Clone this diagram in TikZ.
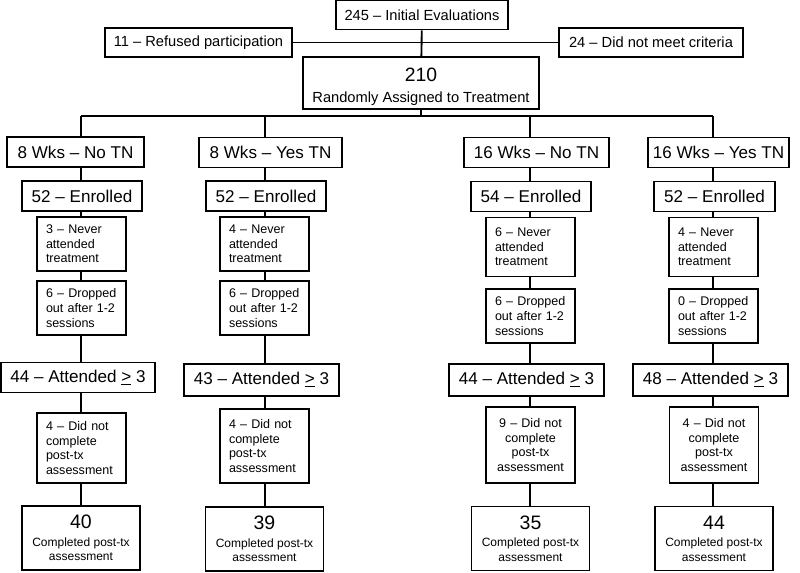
\documentclass[tikz,border=0pt]{standalone}
\usepackage{fontspec}
\setmainfont{Liberation Sans}
\usetikzlibrary{calc}

\begin{document}
\begin{tikzpicture}[x=0.75pt,y=-0.75pt,
    box/.style={draw,line width=1.4pt,fill=white,inner sep=0pt,align=center},
    link/.style={line width=1.4pt},
    topbox/.style={box,minimum height=21.75pt,font=\fontsize{11}{13}\selectfont},
    armbox/.style={box,minimum height=22.5pt,font=\fontsize{12.8}{15}\selectfont},
    smallbox/.style={box,text width=53.25pt,inner xsep=6.75pt,align=left,font=\fontsize{9.4}{11}\selectfont},
    finalbox/.style={box,minimum width=88.5pt,minimum height=48pt,font=\fontsize{9}{11}\selectfont}]

    \useasboundingbox (0,0) rectangle (800,572);

    % screening
    \node[topbox,minimum width=129pt] (init) at (422,15) {245 -- Initial Evaluations};
    \node[topbox,minimum width=140.25pt] (refused) at (198.5,42.5) {11 -- Refused participation};
    \node[topbox,minimum width=138pt] (notmet) at (651,42.5) {24 -- Did not meet criteria};
    \node[box,minimum width=177pt,minimum height=39pt,font=\fontsize{11}{13}\selectfont] (rand) at (421,83)
        {{\fontsize{14.5}{16}\selectfont\rule{0pt}{16pt}210}\\[3pt]Randomly Assigned to Treatment};
    \draw[link] (refused) -- (notmet);
    \draw[link] (init) -- (rand);

    % bus to the four arms
    \coordinate (split) at (421,116);
    \coordinate (b1) at (81,116);  \coordinate (b2) at (265,116);
    \coordinate (b3) at (530,116); \coordinate (b4) at (713,116);
    \draw[link] (rand) -- (split);
    \draw[link] (b1) -- (b4);

    % 8 weeks, no TN
    \node[armbox,minimum width=102.75pt] (arm1) at (75.5,152) {8 Wks -- No TN};
    \node[armbox,minimum width=90pt] (enr1) at (82,196) {52 -- Enrolled};
    \node[smallbox,minimum height=40.5pt] (nev1) at (81.5,244) {3 -- Never\\attended\\treatment};
    \node[smallbox,minimum height=40.5pt] (drop1) at (81.5,308) {6 -- Dropped\\out after 1-2\\sessions};
    \node[armbox,minimum width=115.5pt] (att1) at (78,377.5) {44 -- Attended \underline{>} 3};
    \node[smallbox,minimum height=52.5pt] (dnc1) at (81.5,448) {4 -- Did not\\complete\\post-tx\\assessment};
    \node[finalbox] (comp1) at (81,538) {{\fontsize{14.6}{17}\selectfont 40}\\[2pt]Completed post-tx\\assessment};

    % 8 weeks, yes TN
    \node[armbox,minimum width=107.25pt] (arm2) at (270.5,152.5) {8 Wks -- Yes TN};
    \node[armbox,minimum width=90pt] (enr2) at (266,196) {52 -- Enrolled};
    \node[smallbox,minimum height=40.5pt] (nev2) at (264.5,244) {4 -- Never\\attended\\treatment};
    \node[smallbox,minimum height=40.5pt] (drop2) at (264.5,308) {6 -- Dropped\\out after 1-2\\sessions};
    \node[armbox,minimum width=116.25pt,minimum height=24pt] (att2) at (261.5,380) {43 -- Attended \underline{>} 3};
    \node[smallbox,minimum height=55.5pt] (dnc2) at (264.5,446) {4 -- Did not\\complete\\post-tx\\assessment};
    \node[finalbox] (comp2) at (264.5,539) {{\fontsize{14.6}{17}\selectfont 39}\\[2pt]Completed post-tx\\assessment};

    % 16 weeks, no TN
    \node[armbox,minimum width=108.75pt] (arm3) at (536.5,152.5) {16 Wks -- No TN};
    \node[armbox,minimum width=90pt] (enr3) at (531,196.5) {54 -- Enrolled};
    \node[smallbox,minimum height=44.25pt] (nev3) at (530.5,247) {6 -- Never\\attended\\treatment};
    \node[smallbox,minimum height=40.5pt] (drop3) at (530.5,316) {6 -- Dropped\\out after 1-2\\sessions};
    \node[armbox,minimum width=116.25pt,minimum height=24pt] (att3) at (526.5,380) {44 -- Attended \underline{>} 3};
    \node[smallbox,align=center,minimum height=57pt] (dnc3) at (530.5,445) {9 -- Did not\\complete\\post-tx\\assessment};
    \node[finalbox] (comp3) at (530.5,538.5) {{\fontsize{14.6}{17}\selectfont 35}\\[2pt]Completed post-tx\\assessment};

    % 16 weeks, yes TN
    \node[armbox,minimum width=105.75pt] (arm4) at (718.5,152.5) {16 Wks -- Yes TN};
    \node[armbox,minimum width=90.75pt] (enr4) at (714.5,196.5) {52 -- Enrolled};
    \node[smallbox,minimum height=44.25pt] (nev4) at (713.5,247) {4 -- Never\\attended\\treatment};
    \node[smallbox,minimum height=40.5pt] (drop4) at (713.5,316) {0 -- Dropped\\out after 1-2\\sessions};
    \node[armbox,minimum width=116.25pt,minimum height=24pt] (att4) at (710.5,380) {48 -- Attended \underline{>} 3};
    \node[smallbox,align=center,minimum height=57pt] (dnc4) at (714,445) {4 -- Did not\\complete\\post-tx\\assessment};
    \node[finalbox] (comp4) at (714,538.5) {{\fontsize{14.6}{17}\selectfont 44}\\[2pt]Completed post-tx\\assessment};

    % column spines
    \foreach \c in {1,...,4}{
      \draw[link] (b\c) -- (arm\c.north -| b\c);
      \foreach \u/\v in {arm/enr,enr/nev,nev/drop,drop/att,att/dnc,dnc/comp}
        \draw[link] (\u\c.south -| b\c) -- (\v\c.north -| b\c);
    }
\end{tikzpicture}
\end{document}
